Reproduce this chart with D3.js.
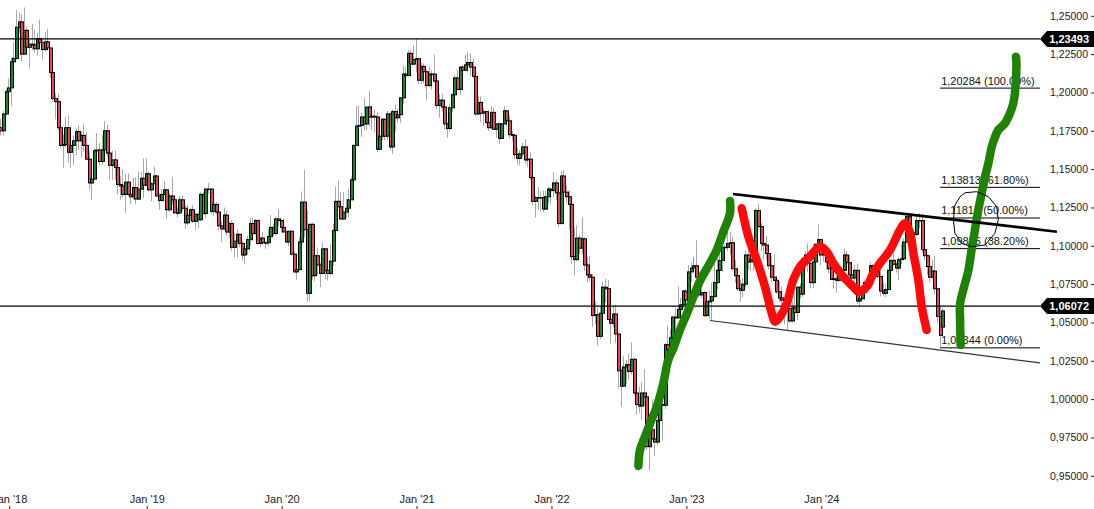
<!DOCTYPE html>
<html><head><meta charset="utf-8">
<script src="https://cdn.jsdelivr.net/npm/d3@7"></script>
<style>body{margin:0;background:#fff}svg{display:block;font-family:"Liberation Sans",Arial,sans-serif}</style>
</head><body><svg id="c" width="1094" height="509"></svg>
<script>
// ---- weekly EUR/USD candles [open, high, low, close], weeks starting Monday ----
const firstWeek = [2017, 11, 11]; // Mon 11 Dec 2017
const w2017 = [[1.1770,1.1830,1.1720,1.1750],[1.1750,1.1880,1.1720,1.1860],[1.1860,1.2025,1.1850,1.2005]];
const w2018 = [
[1.2005,1.2090,1.1980,1.2030],[1.2030,1.2230,1.1915,1.2200],[1.2200,1.2325,1.2165,1.2222],[1.2222,1.2537,1.2215,1.2425],
[1.2425,1.2520,1.2390,1.2460],[1.2460,1.2510,1.2205,1.2250],[1.2250,1.2555,1.2245,1.2405],[1.2405,1.2430,1.2260,1.2295],
[1.2295,1.2355,1.2155,1.2315],[1.2315,1.2445,1.2275,1.2310],[1.2310,1.2410,1.2260,1.2285],[1.2285,1.2390,1.2240,1.2350],
[1.2350,1.2475,1.2290,1.2325],[1.2325,1.2345,1.2215,1.2280],[1.2280,1.2395,1.2265,1.2330],[1.2330,1.2415,1.2275,1.2290],
[1.2290,1.2295,1.2095,1.2130],[1.2130,1.2140,1.1940,1.1960],[1.1960,1.1995,1.1825,1.1940],[1.1940,1.1995,1.1750,1.1770],
[1.1770,1.1830,1.1640,1.1655],[1.1655,1.1725,1.1510,1.1660],[1.1660,1.1840,1.1645,1.1770],[1.1770,1.1850,1.1540,1.1610],
[1.1610,1.1670,1.1510,1.1655],[1.1655,1.1720,1.1525,1.1685],[1.1685,1.1765,1.1590,1.1745],[1.1745,1.1790,1.1625,1.1685],
[1.1685,1.1750,1.1575,1.1720],[1.1720,1.1790,1.1615,1.1655],[1.1655,1.1745,1.1560,1.1565],[1.1565,1.1615,1.1365,1.1410],
[1.1410,1.1445,1.1300,1.1435],[1.1435,1.1635,1.1430,1.1620],[1.1620,1.1735,1.1595,1.1625],[1.1625,1.1670,1.1525,1.1550],
[1.1550,1.1720,1.1530,1.1625],[1.1625,1.1815,1.1610,1.1750],[1.1750,1.1790,1.1575,1.1605],[1.1605,1.1625,1.1430,1.1525],
[1.1525,1.1620,1.1430,1.1560],[1.1560,1.1620,1.1430,1.1510],[1.1510,1.1545,1.1335,1.1400],[1.1400,1.1455,1.1300,1.1390],
[1.1390,1.1500,1.1315,1.1335],[1.1335,1.1470,1.1215,1.1415],[1.1415,1.1470,1.1325,1.1335],[1.1335,1.1410,1.1270,1.1320],
[1.1320,1.1445,1.1305,1.1380],[1.1380,1.1445,1.1270,1.1305],[1.1305,1.1485,1.1300,1.1370],[1.1370,1.1485,1.1365,1.1440],
[1.1440,1.1570,1.1310,1.1395]];
const w2019 = [
[1.1395,1.1570,1.1390,1.1470],[1.1470,1.1485,1.1355,1.1365],[1.1365,1.1415,1.1290,1.1405],[1.1405,1.1515,1.1400,1.1455],
[1.1455,1.1465,1.1320,1.1325],[1.1325,1.1345,1.1235,1.1295],[1.1295,1.1370,1.1290,1.1335],[1.1335,1.1420,1.1330,1.1365],
[1.1365,1.1365,1.1175,1.1235],[1.1235,1.1345,1.1220,1.1325],[1.1325,1.1450,1.1270,1.1300],[1.1300,1.1325,1.1210,1.1215],
[1.1215,1.1255,1.1185,1.1215],[1.1215,1.1325,1.1210,1.1300],[1.1300,1.1325,1.1225,1.1245],[1.1245,1.1265,1.1110,1.1150],
[1.1150,1.1265,1.1135,1.1200],[1.1200,1.1250,1.1160,1.1235],[1.1235,1.1265,1.1150,1.1160],[1.1160,1.1215,1.1105,1.1205],
[1.1205,1.1215,1.1115,1.1170],[1.1170,1.1350,1.1160,1.1335],[1.1335,1.1350,1.1205,1.1210],[1.1210,1.1375,1.1180,1.1370],
[1.1370,1.1410,1.1340,1.1370],[1.1370,1.1375,1.1205,1.1225],[1.1225,1.1285,1.1195,1.1270],[1.1270,1.1285,1.1200,1.1220],
[1.1220,1.1230,1.1100,1.1130],[1.1130,1.1160,1.1025,1.1110],[1.1110,1.1250,1.1105,1.1200],[1.1200,1.1230,1.1065,1.1090],
[1.1090,1.1155,1.1050,1.1145],[1.1145,1.1165,1.0965,1.0990],[1.0990,1.1085,1.0925,1.1030],[1.1030,1.1110,1.0925,1.1075],
[1.1075,1.1075,1.0990,1.1015],[1.1015,1.1030,1.0905,1.0940],[1.0940,1.0995,1.0880,1.0980],[1.0980,1.1065,1.0940,1.1040],
[1.1040,1.1180,1.1000,1.1145],[1.1145,1.1180,1.1075,1.1080],[1.1080,1.1175,1.1070,1.1165],[1.1165,1.1175,1.1005,1.1015],
[1.1015,1.1055,1.0990,1.1050],[1.1050,1.1090,1.1015,1.1020],[1.1020,1.1030,1.0980,1.1020],[1.1020,1.1115,1.1000,1.1060],
[1.1060,1.1200,1.1040,1.1120],[1.1120,1.1145,1.1065,1.1080],[1.1080,1.1190,1.1065,1.1175],[1.1175,1.1240,1.1125,1.1165]];
const w2020 = [
[1.1165,1.1170,1.1090,1.1120],[1.1120,1.1175,1.1085,1.1090],[1.1090,1.1100,1.1020,1.1025],[1.1025,1.1095,1.0995,1.1095],
[1.1095,1.1095,1.0940,1.0945],[1.0945,1.0965,1.0825,1.0830],[1.0830,1.0865,1.0780,1.0845],[1.0845,1.1055,1.0840,1.1025],
[1.1025,1.1355,1.1015,1.1285],[1.1285,1.1495,1.1055,1.1105],[1.1105,1.1235,1.0635,1.0690],[1.0690,1.1145,1.0640,1.1140],
[1.1140,1.1150,1.0780,1.0805],[1.0805,1.0950,1.0770,1.0935],[1.0935,1.0990,1.0810,1.0875],[1.0875,1.0890,1.0730,1.0820],
[1.0820,1.1020,1.0815,1.0980],[1.0980,1.0985,1.0780,1.0840],[1.0840,1.0875,1.0775,1.0820],[1.0820,1.1010,1.0810,1.0900],
[1.0900,1.1145,1.0870,1.1100],[1.1100,1.1385,1.1095,1.1290],[1.1290,1.1425,1.1250,1.1255],[1.1255,1.1350,1.1170,1.1175],
[1.1175,1.1350,1.1170,1.1220],[1.1220,1.1305,1.1185,1.1245],[1.1245,1.1370,1.1185,1.1300],[1.1300,1.1450,1.1300,1.1430],
[1.1430,1.1660,1.1420,1.1655],[1.1655,1.1910,1.1650,1.1780],[1.1780,1.1915,1.1700,1.1785],[1.1785,1.1865,1.1710,1.1840],
[1.1840,1.1965,1.1755,1.1795],[1.1795,1.1905,1.1755,1.1905],[1.1905,1.2010,1.1780,1.1840],[1.1840,1.1915,1.1755,1.1845],
[1.1845,1.1885,1.1740,1.1840],[1.1840,1.1870,1.1610,1.1630],[1.1630,1.1770,1.1625,1.1715],[1.1715,1.1835,1.1690,1.1825],
[1.1825,1.1830,1.1690,1.1715],[1.1715,1.1880,1.1690,1.1860],[1.1860,1.1870,1.1625,1.1645],[1.1645,1.1890,1.1600,1.1875],
[1.1875,1.1920,1.1745,1.1835],[1.1835,1.1895,1.1800,1.1855],[1.1855,1.1965,1.1800,1.1965],[1.1965,1.2175,1.1925,1.2120],
[1.2120,1.2165,1.2060,1.2110],[1.2110,1.2275,1.2110,1.2255],[1.2255,1.2275,1.2130,1.2185],[1.2185,1.2310,1.2180,1.2215]];
const w2021 = [
[1.2215,1.2350,1.2130,1.2220],[1.2220,1.2225,1.2055,1.2080],[1.2080,1.2190,1.2055,1.2170],[1.2170,1.2190,1.2060,1.2135],
[1.2135,1.2150,1.1950,1.2045],[1.2045,1.2170,1.2035,1.2120],[1.2120,1.2145,1.2020,1.2120],[1.2120,1.2245,1.2065,1.2075],
[1.2075,1.2110,1.1895,1.1915],[1.1915,1.1990,1.1835,1.1950],[1.1950,1.1990,1.1875,1.1905],[1.1905,1.1945,1.1760,1.1795],
[1.1795,1.1805,1.1705,1.1765],[1.1765,1.1930,1.1745,1.1900],[1.1900,1.1995,1.1870,1.1985],[1.1985,1.2115,1.1950,1.2095],
[1.2095,1.2150,1.2015,1.2020],[1.2020,1.2170,1.1985,1.2165],[1.2165,1.2180,1.2050,1.2145],[1.2145,1.2245,1.2140,1.2180],
[1.2180,1.2265,1.2130,1.2195],[1.2195,1.2255,1.2105,1.2165],[1.2165,1.2220,1.2095,1.2105],[1.2105,1.2145,1.1845,1.1860],
[1.1860,1.1975,1.1850,1.1935],[1.1935,1.1975,1.1805,1.1865],[1.1865,1.1895,1.1780,1.1875],[1.1875,1.1880,1.1795,1.1805],
[1.1805,1.1850,1.1750,1.1770],[1.1770,1.1910,1.1760,1.1870],[1.1870,1.1900,1.1755,1.1760],[1.1760,1.1795,1.1705,1.1795],
[1.1795,1.1805,1.1665,1.1700],[1.1700,1.1800,1.1695,1.1795],[1.1795,1.1910,1.1790,1.1880],[1.1880,1.1885,1.1775,1.1815],
[1.1815,1.1850,1.1700,1.1725],[1.1725,1.1750,1.1685,1.1720],[1.1720,1.1725,1.1565,1.1595],[1.1595,1.1640,1.1530,1.1570],
[1.1570,1.1625,1.1525,1.1600],[1.1600,1.1670,1.1580,1.1645],[1.1645,1.1695,1.1535,1.1560],[1.1560,1.1615,1.1515,1.1565],
[1.1565,1.1610,1.1430,1.1445],[1.1445,1.1465,1.1265,1.1290],[1.1290,1.1325,1.1185,1.1315],[1.1315,1.1385,1.1235,1.1315],
[1.1315,1.1355,1.1225,1.1315],[1.1315,1.1360,1.1220,1.1240],[1.1240,1.1360,1.1235,1.1320],[1.1320,1.1385,1.1280,1.1370]];
const w2022 = [
[1.1370,1.1375,1.1270,1.1360],[1.1360,1.1480,1.1315,1.1410],[1.1410,1.1435,1.1300,1.1345],[1.1345,1.1350,1.1120,1.1145],
[1.1145,1.1485,1.1140,1.1455],[1.1455,1.1495,1.1340,1.1350],[1.1350,1.1395,1.1280,1.1320],[1.1320,1.1365,1.1105,1.1270],
[1.1270,1.1275,1.0880,1.0930],[1.0930,1.1120,1.0805,1.0910],[1.0910,1.1135,1.0900,1.1050],[1.1050,1.1070,1.0945,1.0985],
[1.0985,1.1185,1.0945,1.1045],[1.1045,1.1055,1.0835,1.0875],[1.0875,1.0925,1.0760,1.0810],[1.0810,1.0935,1.0770,1.0795],
[1.0795,1.0815,1.0470,1.0545],[1.0545,1.0640,1.0490,1.0550],[1.0550,1.0595,1.0350,1.0410],[1.0410,1.0605,1.0390,1.0560],
[1.0560,1.0765,1.0550,1.0730],[1.0730,1.0785,1.0630,1.0720],[1.0720,1.0775,1.0515,1.0520],[1.0520,1.0600,1.0360,1.0495],
[1.0495,1.0610,1.0470,1.0555],[1.0555,1.0615,1.0365,1.0425],[1.0425,1.0435,1.0070,1.0185],[1.0185,1.0200,0.9950,1.0085],
[1.0085,1.0280,1.0080,1.0210],[1.0210,1.0255,1.0100,1.0225],[1.0225,1.0295,1.0125,1.0180],[1.0180,1.0370,1.0160,1.0260],
[1.0260,1.0270,1.0030,1.0040],[1.0040,1.0090,0.9900,0.9965],[0.9965,1.0080,0.9910,0.9955],[0.9955,1.0115,0.9865,1.0040],
[1.0040,1.0195,0.9955,1.0015],[1.0015,1.0050,0.9665,0.9690],[0.9690,0.9855,0.9535,0.9800],[0.9800,0.9999,0.9740,0.9740],
[0.9740,0.9810,0.9630,0.9720],[0.9720,0.9875,0.9700,0.9860],[0.9860,1.0095,0.9855,0.9965],[0.9965,1.0000,0.9730,0.9960],
[0.9960,1.0365,0.9935,1.0355],[1.0355,1.0480,1.0270,1.0325],[1.0325,1.0450,1.0225,1.0400],[1.0400,1.0545,1.0290,1.0535],
[1.0535,1.0595,1.0445,1.0530],[1.0530,1.0735,1.0525,1.0585],[1.0585,1.0660,1.0575,1.0615],[1.0615,1.0715,1.0595,1.0705]];
const w2023 = [
[1.0705,1.0715,1.0485,1.0645],[1.0645,1.0875,1.0650,1.0830],[1.0830,1.0890,1.0765,1.0855],[1.0855,1.0930,1.0835,1.0870],
[1.0870,1.1035,1.0795,1.0795],[1.0795,1.0805,1.0665,1.0680],[1.0680,1.0805,1.0655,1.0695],[1.0695,1.0705,1.0535,1.0545],
[1.0545,1.0695,1.0535,1.0635],[1.0635,1.0705,1.0525,1.0640],[1.0640,1.0760,1.0515,1.0670],[1.0670,1.0930,1.0660,1.0760],
[1.0760,1.0930,1.0715,1.0840],[1.0840,1.0975,1.0835,1.0905],[1.0905,1.1075,1.0830,1.0990],[1.0990,1.1005,1.0910,1.0990],
[1.0990,1.1095,1.0965,1.1015],[1.1015,1.1090,1.0940,1.1020],[1.1020,1.1060,1.0850,1.0850],[1.0850,1.0905,1.0760,1.0805],
[1.0805,1.0830,1.0705,1.0720],[1.0720,1.0780,1.0635,1.0710],[1.0710,1.0790,1.0665,1.0750],[1.0750,1.0970,1.0730,1.0940],
[1.0940,1.1010,1.0845,1.0895],[1.0895,1.0975,1.0835,1.0910],[1.0910,1.0975,1.0835,1.0965],[1.0965,1.1245,1.0955,1.1230],
[1.1230,1.1275,1.1115,1.1125],[1.1125,1.1150,1.0965,1.1015],[1.1015,1.1045,1.0910,1.1005],[1.1005,1.1065,1.0910,1.0950],
[1.0950,1.0985,1.0845,1.0870],[1.0870,1.0930,1.0765,1.0795],[1.0795,1.0945,1.0770,1.0775],[1.0775,1.0800,1.0685,1.0700],
[1.0700,1.0770,1.0630,1.0660],[1.0660,1.0735,1.0615,1.0645],[1.0645,1.0650,1.0490,1.0575],[1.0575,1.0595,1.0450,1.0590],
[1.0590,1.0640,1.0495,1.0510],[1.0510,1.0640,1.0500,1.0595],[1.0595,1.0695,1.0520,1.0565],[1.0565,1.0735,1.0515,1.0730],
[1.0730,1.0755,1.0655,1.0685],[1.0685,1.0915,1.0665,1.0915],[1.0915,1.0965,1.0850,1.0940],[1.0940,1.1015,1.0830,1.0885],
[1.0885,1.0895,1.0725,1.0760],[1.0760,1.1010,1.0725,1.0895],[1.0895,1.1015,1.0880,1.1010],[1.1010,1.1140,1.1005,1.1040]];
const w2024 = [
[1.1040,1.1045,1.0875,1.0940],[1.0940,1.1000,1.0895,1.0950],[1.0950,1.0970,1.0845,1.0895],[1.0895,1.0935,1.0820,1.0850],
[1.0850,1.0895,1.0780,1.0780],[1.0780,1.0805,1.0720,1.0785],[1.0785,1.0805,1.0695,1.0775],[1.0775,1.0890,1.0760,1.0820],
[1.0820,1.0865,1.0795,1.0840],[1.0840,1.0980,1.0835,1.0940],[1.0940,1.0965,1.0880,1.0890],[1.0890,1.0940,1.0800,1.0810],
[1.0810,1.0840,1.0775,1.0790],[1.0790,1.0875,1.0725,1.0840],[1.0840,1.0885,1.0620,1.0640],[1.0640,1.0690,1.0600,1.0655],
[1.0655,1.0730,1.0650,1.0695],[1.0695,1.0780,1.0650,1.0760],[1.0760,1.0800,1.0725,1.0770],[1.0770,1.0895,1.0765,1.0870],
[1.0870,1.0880,1.0805,1.0845],[1.0845,1.0890,1.0790,1.0850],[1.0850,1.0915,1.0790,1.0800],[1.0800,1.0855,1.0670,1.0705],
[1.0705,1.0760,1.0670,1.0690],[1.0690,1.0750,1.0665,1.0715],[1.0715,1.0845,1.0710,1.0840],[1.0840,1.0910,1.0790,1.0905],
[1.0905,1.0950,1.0870,1.0880],[1.0880,1.0890,1.0825,1.0855],[1.0855,1.0925,1.0775,1.0910],[1.0910,1.1010,1.0880,1.0915],
[1.0915,1.1050,1.0905,1.1025],[1.1025,1.1200,1.1015,1.1190],[1.1190,1.1200,1.1040,1.1050],[1.1050,1.1155,1.1025,1.1085],
[1.1085,1.1090,1.1000,1.1075],[1.1075,1.1190,1.1065,1.1165],[1.1165,1.1215,1.1115,1.1165],[1.1165,1.1210,1.0955,1.0975],
[1.0975,1.0995,1.0905,1.0935],[1.0935,1.0945,1.0810,1.0865],[1.0865,1.0870,1.0760,1.0795],[1.0795,1.0905,1.0790,1.0835],
[1.0835,1.0935,1.0685,1.0720],[1.0720,1.0725,1.0495,1.0540],[1.0540,1.0610,1.0335,1.0415],[1.0470,1.0595,1.0425,1.0575]];

// ---- axes / levels ----
const yTicks = [1.25,1.225,1.20,1.175,1.15,1.125,1.10,1.075,1.05,1.025,1.00,0.975,0.95];
const xTickLabels = ["Jan '18","Jan '19","Jan '20","Jan '21","Jan '22","Jan '23","Jan '24"];
const hLevels = [1.23493, 1.06072];
const fibLevels = [1.20284, 1.13813, 1.11814, 1.09815, 1.03344];
const fibPcts = ["100.00%","61.80%","50.00%","38.20%","0.00%"];
const fibSpan = [361.8, 400.3];              // week index range of the fib lines
// ---- drawn annotations as [week index, price] ----
const trendUpper = [[281.96,1.1338],[406.8,1.1092]];
const trendLower = [[273.1,1.0513],[400.3,1.0236]];
const redPath = [[285.3,1.1245],[287.9,1.1059],[291.1,1.0907],[294.3,1.0733],[296.9,1.0560],[298.2,1.0505],[300.1,1.0538],
 [302.7,1.0625],[305.2,1.0777],[307.8,1.0864],[311.6,1.0929],[315.5,1.0994],[318.1,1.0961],[320.6,1.0886],[324.5,1.0798],
 [328.3,1.0733],[330.3,1.0701],[333.5,1.0733],[336.0,1.0821],[338.6,1.0886],[342.5,1.0973],[346.3,1.1103],[348.3,1.1147],
 [350.2,1.1082],[351.5,1.0951],[353.4,1.0777],[354.7,1.0603],[356.6,1.0451]];
const greenLeft = [[245.5,0.9564],[246.1,0.9668],[248.0,0.9755],[250.0,0.9842],[252.6,0.9951],[255.1,1.0103],[257.0,1.0255],
 [259.0,1.0333],[261.5,1.0451],[264.1,1.0555],[266.7,1.0668],[269.2,1.0770],[273.1,1.0888],[275.7,1.0973],[278.2,1.1090],
 [280.8,1.1212],[280.8,1.1292]];
const greenRight = [[369.7,1.0353],[369.5,1.0495],[369.5,1.0625],[370.7,1.0712],[372.7,1.0842],[374.0,1.0984],[375.2,1.1103],
 [376.5,1.1233],[377.8,1.1342],[379.1,1.1451],[380.4,1.1538],[381.7,1.1646],[383.0,1.1712],[384.2,1.1755],[386.8,1.1799],
 [388.7,1.1864],[390.0,1.1929],[390.6,1.1995],[391.0,1.2081],[391.2,1.2190],[391.0,1.2233]];
const circle = [[371.4,1.1346],[375.9,1.1353],[380.4,1.1320],[383.6,1.1255],[384.2,1.1168],[382.9,1.1082],[379.1,1.1005],
 [374.0,1.0994],[370.1,1.1016],[367.5,1.1082],[366.9,1.1168],[367.5,1.1266],[369.5,1.1320]];

const candles = [...w2017,...w2018,...w2019,...w2020,...w2021,...w2022,...w2023,...w2024]
  .map((d,i)=>({i, o:d[0], h:d[1], l:d[2], c:d[3], date:new Date(firstWeek[0], firstWeek[1], firstWeek[2] + 7*i)}));
const n = candles.length;

const svg = d3.select('#c');
const x = d3.scaleLinear().domain([0, n-1]).range([1.42, 943.27]);
const y = d3.scaleLinear().domain([0.95, 1.25]).range([475.8, 15.8]);
const plotRight = 1040;
const GREEN = '#118a2d', RED = '#ee4059';

// candles
const gC = svg.append('g');
gC.selectAll('line.w').data(candles).join('line')
  .attr('x1', d=>Math.round(x(d.i))-0.5).attr('x2', d=>Math.round(x(d.i))-0.5)
  .attr('y1', d=>y(d.h)).attr('y2', d=>y(d.l))
  .attr('stroke', '#a8a8a8').attr('stroke-width', 1);
gC.selectAll('rect').data(candles).join('rect')
  .attr('x', d=>Math.round(x(d.i))-1.5).attr('width', 3)
  .attr('y', d=>y(Math.max(d.o,d.c))).attr('height', d=>Math.max(0.5, Math.abs(y(d.o)-y(d.c))))
  .attr('fill', d=>d.c>=d.o?GREEN:RED).attr('stroke', '#000').attr('stroke-width', 1);

// horizontal levels
svg.selectAll('line.h').data(hLevels).join('line').attr('class','h')
  .attr('x1', 0).attr('x2', plotRight).attr('y1', d=>y(d)).attr('y2', d=>y(d))
  .attr('stroke', '#000').attr('stroke-width', 1.3);

// lower channel line
svg.append('line').attr('x1', x(trendLower[0][0])).attr('y1', y(trendLower[0][1]))
  .attr('x2', x(trendLower[1][0])).attr('y2', y(trendLower[1][1]))
  .attr('stroke', '#333').attr('stroke-width', 1.2);

// fib levels
const fmt = v => d3.format('.5f')(v).replace('.', ',');
const gF = svg.append('g');
gF.selectAll('line').data(fibLevels).join('line')
  .attr('x1', x(fibSpan[0])).attr('x2', x(fibSpan[1])).attr('y1', d=>y(d)).attr('y2', d=>y(d))
  .attr('stroke', '#000').attr('stroke-width', 1);
gF.selectAll('text').data(fibLevels).join('text')
  .attr('x', x(fibSpan[0])+1).attr('y', d=>y(d)-3.5)
  .attr('font-size', 11).attr('fill', '#111')
  .text((d,i)=>`${fmt(d)} (${fibPcts[i]})`);

// hand-drawn paths
const line = d3.line().x(d=>x(d[0])).y(d=>y(d[1])).curve(d3.curveCatmullRom);
svg.append('path').attr('d', line(redPath)).attr('fill','none').attr('stroke','#ff0a0a')
  .attr('stroke-width', 8.5).attr('stroke-linecap','round').attr('stroke-linejoin','round');
[greenLeft, greenRight].forEach(p=>{
  svg.append('path').attr('d', line(p)).attr('fill','none').attr('stroke','#1f8204')
    .attr('stroke-width', 8.5).attr('stroke-linecap','round').attr('stroke-linejoin','round');
});

// upper trend line (thick)
svg.append('line').attr('x1', x(trendUpper[0][0])).attr('y1', y(trendUpper[0][1]))
  .attr('x2', x(trendUpper[1][0])).attr('y2', y(trendUpper[1][1]))
  .attr('stroke', '#000').attr('stroke-width', 2.6);

// circle
svg.append('path').attr('d', d3.line().x(d=>x(d[0])).y(d=>y(d[1])).curve(d3.curveLinearClosed)(circle))
  .attr('fill','none').attr('stroke','#000').attr('stroke-width', 1);

// y axis
const ya = svg.append('g').attr('transform','translate(1094,0)')
  .call(d3.axisLeft(y).tickValues(yTicks).tickSize(3).tickPadding(3).tickFormat(fmt));
ya.select('.domain').remove();
ya.selectAll('text').attr('font-size', 10.5).attr('fill','#222').attr('font-family','"Liberation Sans",Arial,sans-serif');
ya.selectAll('line').attr('stroke','#222');

// x axis
const yearStarts = candles.filter((d,i)=>i>0 && d.date.getFullYear()!==candles[i-1].date.getFullYear()).map(d=>d.i);
const xa = svg.append('g').attr('transform','translate(0,509)')
  .call(d3.axisTop(x).tickValues(yearStarts).tickSize(3).tickPadding(3.5).tickFormat((d,i)=>xTickLabels[i]));
xa.select('.domain').remove();
xa.selectAll('text').attr('font-size', 11).attr('fill','#222').attr('font-family','"Liberation Sans",Arial,sans-serif');
xa.selectAll('line').attr('stroke','#222');

// price tags
const gT = svg.append('g');
hLevels.forEach(v=>{
  const yy = y(v);
  gT.append('path').attr('d', `M${plotRight},${yy} L${plotRight+7},${yy-8} L1094,${yy-8} L1094,${yy+8} L${plotRight+7},${yy+8} Z`)
    .attr('fill','#000');
  gT.append('text').attr('x', 1089).attr('y', yy+4).attr('text-anchor','end')
    .attr('font-size', 11).attr('font-weight','bold').attr('fill','#fff').text(fmt(v));
});
</script></body></html>
